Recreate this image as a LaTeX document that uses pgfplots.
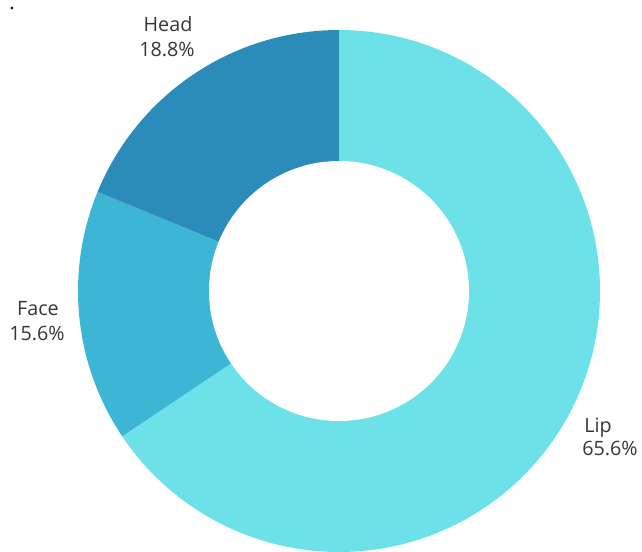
\documentclass[border=0pt]{standalone}
\usepackage{pgfplots}
\pgfplotsset{compat=1.18}
\usepackage{fontspec}
\setmainfont{Open Sans}
\definecolor{lipc}{HTML}{6CE1E8}
\definecolor{facec}{HTML}{3DB5D4}
\definecolor{headc}{HTML}{2B8BB9}
\definecolor{txt}{HTML}{363636}
\begin{document}
\begin{tikzpicture}
\useasboundingbox (0,0) rectangle (481.5pt,413.25pt);
\begin{axis}[
  at={(0,0)}, anchor=south west,
  x=0.75pt, y=0.75pt,
  xmin=0, xmax=642, ymin=0, ymax=551,
  hide axis,
]
\addplot[draw=none] coordinates {(0,0) (642,551)};
\pgfplotsextra{
  \xdef\ang{90}
  \foreach \val/\col in {65.6/lipc, 15.6/facec, 18.8/headc}{
    \pgfmathsetmacro\endang{\ang-3.6*\val}
    \fill[\col] (axis cs:339,260) -- ++(\ang:195.75pt)
       arc[start angle=\ang, end angle=\endang, radius=195.75pt] -- cycle;
    \xdef\ang{\endang}
  }
  \fill[white] (axis cs:339,260) circle[radius=97.5pt];
}
\end{axis}
\begin{scope}[x=0.75pt,y=0.75pt,every node/.style={text=txt,font=\fontsize{14.8}{19}\selectfont,inner sep=0pt,anchor=base}]
\node at (168,519) {Head};
\node at (167,494) {18.8\%};
\node at (38,236) {Face};
\node at (37,211) {15.6\%};
\node at (598,119) {Lip};
\node at (610,96) {65.6\%};
\node[text=black] at (12,541) {.};
\end{scope}
\end{tikzpicture}
\end{document}
